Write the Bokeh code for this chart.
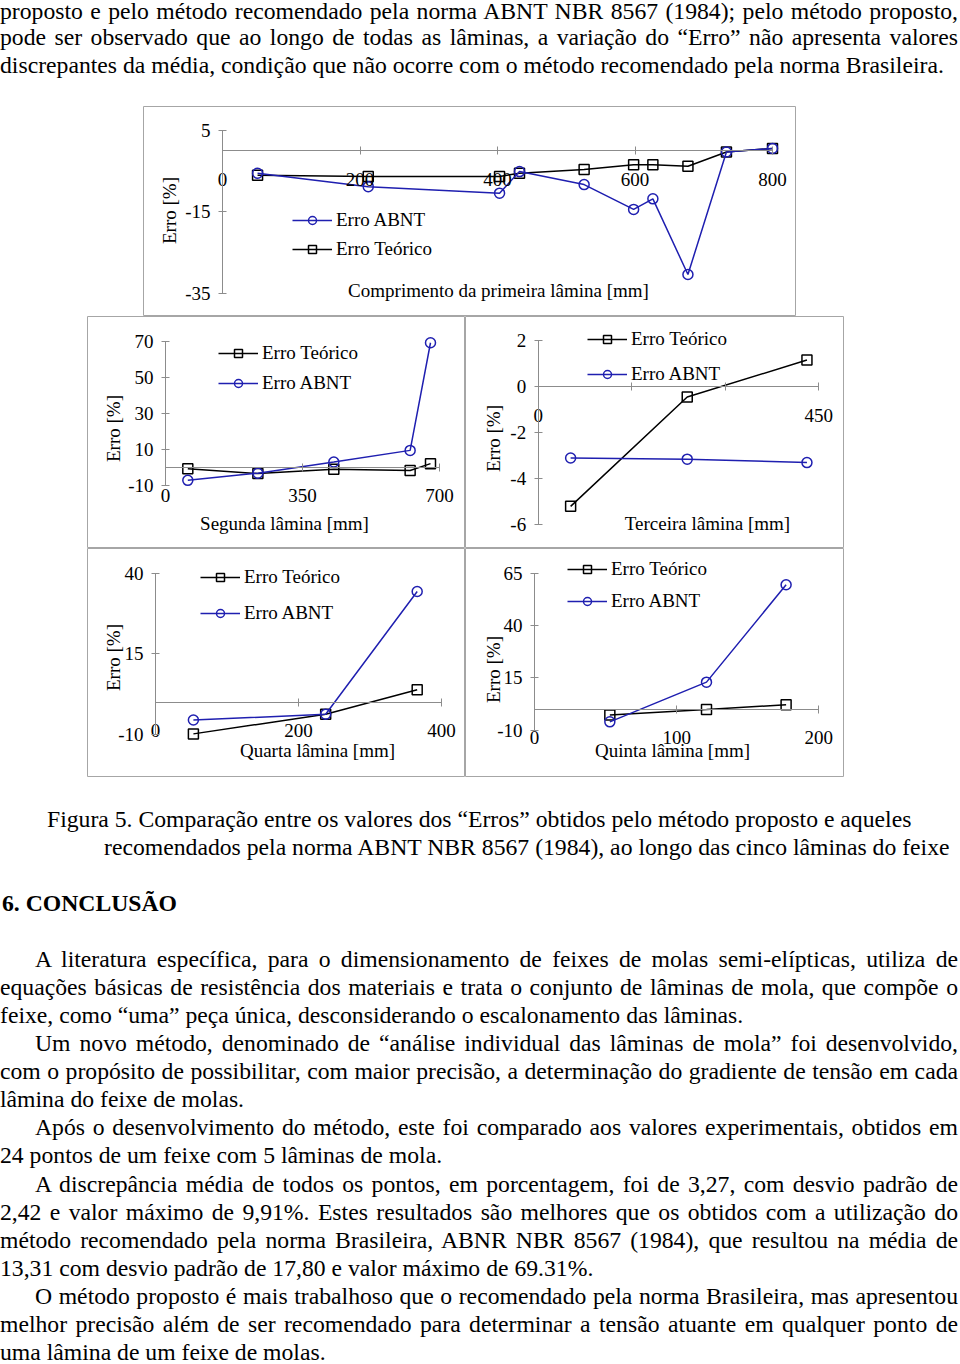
import math
from bokeh.plotting import figure
from bokeh.models import (LinearAxis, FixedTicker, Legend, LegendItem, Label,
                          Range1d, Div, Spacer)
from bokeh.layouts import column, row
from bokeh.embed import file_html
from bokeh.resources import INLINE

# ---------------- data ----------------
lam1_x = [51, 212, 403, 432, 526, 598, 626, 677, 733, 800]
lam1_teorico = [-6.0, -6.3, -6.3, -5.5, -4.6, -3.4, -3.4, -3.8, -0.3, 0.6]
lam1_abnt = [-5.5, -8.8, -10.4, -5.1, -8.3, -14.4, -11.8, -30.4, -0.3, 0.6]
lam1_xticks = [0, 200, 400, 600, 800]
lam1_yticks = [-35, -15, 5]

lam2_x = [57, 236, 430, 625, 677]
lam2_teorico = [-0.9, -3.6, -1.2, -1.9, 1.9]
lam2_abnt = [-7.4, -3.4, 2.8, 9.3, 69.3]
lam2_xticks = [0, 350, 700]
lam2_yticks = [-10, 10, 30, 50, 70]

lam3_x = [52, 239, 431]
lam3_teorico = [-5.2, -0.45, 1.15]
lam3_abnt = [-3.1, -3.15, -3.3]
lam3_xticks = [0, 150, 300, 450]
lam3_xtick_labels = {150: "", 300: ""}
lam3_yticks = [-6, -4, -2, 0, 2]

lam4_x = [53, 238, 366]
lam4_teorico = [-9.9, -3.8, 3.8]
lam4_abnt = [-5.6, -3.8, 34.4]
lam4_xticks = [0, 200, 400]
lam4_yticks = [-10, 15, 40]

lam5_x = [53, 121, 177]
lam5_teorico = [-2.7, -0.1, 2.2]
lam5_abnt = [-6.0, 13.0, 59.6]
lam5_xticks = [0, 100, 200]
lam5_yticks = [-10, 15, 40, 65]

y_title = "Erro [%]"
label_teorico = "Erro Teórico"
label_abnt = "Erro ABNT"
x_titles = ["Comprimento da primeira lâmina [mm]", "Segunda lâmina [mm]",
            "Terceira lâmina [mm]", "Quarta lâmina [mm]", "Quinta lâmina [mm]"]

# ---------------- styles ----------------
SERIF = "Liberation Serif"
AXIS_GRAY = "#8c8c8c"
BOX_GRAY = "#a6a6a6"
BLUE = "#1f1fb0"
FS = "19px"


def style_axis(ax, ticks):
    ax.axis_line_color = AXIS_GRAY
    ax.axis_line_width = 1
    ax.major_tick_line_color = AXIS_GRAY
    ax.major_tick_in = 4
    ax.major_tick_out = 4
    ax.minor_tick_line_color = None
    ax.major_label_text_font = SERIF
    ax.major_label_text_font_size = FS
    ax.major_label_text_color = "black"
    # plain hyphen-minus, as in the original
    ax.major_label_overrides = {t: str(t) for t in ticks}


def make_chart(w, h, xmap, ymap, x, teo, abnt, xticks, yticks, xtitle,
               xtitle_pos, ytitle_pos, legend_loc, legend_spacing,
               order_abnt_first=False, xoverrides=None):
    (px0, vx0), (px1, vx1) = xmap
    (py0, vy0), (py1, vy1) = ymap
    fx = lambda px: vx0 + (px - px0) * (vx1 - vx0) / (px1 - px0)
    fy = lambda py: vy0 + (py - py0) * (vy1 - vy0) / (py1 - py0)

    p = figure(width=w, height=h, x_range=Range1d(fx(0), fx(w)),
               y_range=Range1d(fy(h), fy(0)), x_axis_type=None,
               y_axis_type=None, toolbar_location=None, output_backend="svg",
               min_border=0, title=None, outline_line_color=BOX_GRAY,
               outline_line_width=1, background_fill_color="white",
               border_fill_color="white", margin=(0, 0, 0, 0))

    xa = LinearAxis(fixed_location=0, bounds=(xticks[0], xticks[-1]),
                    ticker=FixedTicker(ticks=xticks, minor_ticks=[]),
                    major_label_standoff=18)
    style_axis(xa, xticks)
    if xoverrides:
        ov = dict(xa.major_label_overrides)
        ov.update(xoverrides)
        xa.major_label_overrides = ov
    p.add_layout(xa, "below")

    ya = LinearAxis(fixed_location=0, bounds=(yticks[0], yticks[-1]),
                    ticker=FixedTicker(ticks=yticks, minor_ticks=[]),
                    major_label_standoff=8)
    style_axis(ya, yticks)
    p.add_layout(ya, "left")

    lt = p.line(x, teo, line_color="black", line_width=1.5)
    st = p.scatter(x, teo, marker="square", size=10, line_color="black",
                   fill_color=None, line_width=1.5)
    la = p.line(x, abnt, line_color=BLUE, line_width=1.5)
    sa = p.scatter(x, abnt, marker="circle", size=10, line_color=BLUE,
                   fill_color=None, line_width=1.5)

    it_t = LegendItem(label=label_teorico, renderers=[lt, st])
    it_a = LegendItem(label=label_abnt, renderers=[la, sa])
    items = [it_a, it_t] if order_abnt_first else [it_t, it_a]
    leg = Legend(items=items, location=legend_loc, orientation="vertical",
                 glyph_width=40, glyph_height=20, label_height=20,
                 spacing=legend_spacing, padding=0, margin=0,
                 label_standoff=4, border_line_alpha=0,
                 background_fill_alpha=0, label_text_font=SERIF,
                 label_text_font_size=FS, label_text_color="black")
    p.add_layout(leg)

    p.add_layout(Label(x=fx(xtitle_pos[0]), y=fy(xtitle_pos[1]), text=xtitle,
                       text_align="center", text_baseline="middle",
                       text_font=SERIF, text_font_size=FS,
                       text_color="black"))
    p.add_layout(Label(x=fx(ytitle_pos[0]), y=fy(ytitle_pos[1]), text=y_title,
                       angle=math.pi / 2, text_align="center",
                       text_baseline="middle", text_font=SERIF,
                       text_font_size=FS, text_color="black"))
    return p


p1 = make_chart(653, 210, ((79, 0), (629, 800)), ((24, 5), (186.7, -35)),
                lam1_x, lam1_teorico, lam1_abnt, lam1_xticks, lam1_yticks,
                x_titles[0], (355, 184), (26.3, 104), (149, 56), 7,
                order_abnt_first=True)
p2 = make_chart(378, 232, ((78, 0), (352, 700)), ((25, 70), (168.5, -10)),
                lam2_x, lam2_teorico, lam2_abnt, lam2_xticks, lam2_yticks,
                x_titles[1], (197, 207), (26, 112), (131, 154), 8)
p3 = make_chart(379, 232, ((72.7, 0), (353.3, 450)), ((24, 2), (208.3, -6)),
                lam3_x, lam3_teorico, lam3_abnt, lam3_xticks, lam3_yticks,
                x_titles[2], (242, 207), (28, 122), (122, 163), 13,
                xoverrides=lam3_xtick_labels)
p4 = make_chart(378, 229, ((68, 0), (354, 400)), ((25, 40), (185.7, -10)),
                lam4_x, lam4_teorico, lam4_abnt, lam4_xticks, lam4_yticks,
                x_titles[3], (230, 202), (26, 109), (113, 153), 14)
p5 = make_chart(379, 229, ((69, 0), (353.3, 200)), ((25, 65), (181.7, -10)),
                lam5_x, lam5_teorico, lam5_abnt, lam5_xticks, lam5_yticks,
                x_titles[4], (207, 202), (28, 121), (102, 165), 10)

# ---------------- page text ----------------
FSZ = 23.7


def text_line(text, center, left=0, justify=False, bold=False, right=958,
              lh=28):
    baseline = center + 7
    off = (lh - 1.107 * FSZ) / 2 + 0.891 * FSZ
    top = baseline - off
    st = (f"position:absolute;top:{top:.2f}px;left:{left}px;"
          f"width:{right-left}px;font-family:'Liberation Serif';"
          f"font-size:{FSZ}px;line-height:{lh}px;color:#000;")
    if justify:
        st += "text-align:justify;text-align-last:justify;"
    else:
        st += "text-align:left;"
    if bold:
        st += "font-weight:bold;"
    return f'<div style="{st}">{text}</div>'


top_lines = [
    ("proposto e pelo método recomendado pela norma ABNT NBR 8567 (1984); pelo método proposto,", True),
    ("pode ser observado que ao longo de todas as lâminas, a variação do “Erro” não apresenta valores", True),
    ("discrepantes da média, condição que não ocorre com o método recomendado pela norma Brasileira.", False),
]
top_centers = [12, 38, 66]
top_html = '<div style="position:relative;width:960px;height:106px;">'
for i, (t, j) in enumerate(top_lines):
    top_html += text_line(t, top_centers[i], justify=j, lh=(20 if i == 0 else 28))
top_html += "</div>"

B0 = 777
body = [
    ("A literatura específica, para o dimensionamento de feixes de molas semi-elípticas, utiliza de", 35, True),
    ("equações básicas de resistência dos materiais e trata o conjunto de lâminas de mola, que compõe o", 0, True),
    ("feixe, como “uma” peça única, desconsiderando o escalonamento das lâminas.", 0, False),
    ("Um novo método, denominado de “análise individual das lâminas de mola” foi desenvolvido,", 35, True),
    ("com o propósito de possibilitar, com maior precisão, a determinação do gradiente de tensão em cada", 0, True),
    ("lâmina do feixe de molas.", 0, False),
    ("Após o desenvolvimento do método, este foi comparado aos valores experimentais, obtidos em", 35, True),
    ("24 pontos de um feixe com 5 lâminas de mola.", 0, False),
    ("A discrepância média de todos os pontos, em porcentagem, foi de 3,27, com desvio padrão de", 35, True),
    ("2,42 e valor máximo de 9,91%. Estes resultados são melhores que os obtidos com a utilização do", 0, True),
    ("método recomendado pela norma Brasileira, ABNR NBR 8567 (1984), que resultou na média de", 0, True),
    ("13,31 com desvio padrão de 17,80 e valor máximo de 69.31%.", 0, False),
    ("O método proposto é mais trabalhoso que o recomendado pela norma Brasileira, mas apresentou", 35, True),
    ("melhor precisão além de ser recomendado para determinar a tensão atuante em qualquer ponto de", 0, True),
    ("uma lâmina de um feixe de molas.", 0, False),
]
bot_html = '<div style="position:relative;width:960px;height:587px;">'
bot_html += text_line("Figura 5. Comparação entre os valores dos “Erros” obtidos pelo método proposto e aqueles", 820 - B0, left=47, right=960)
bot_html += text_line("recomendados pela norma ABNT NBR 8567 (1984), ao longo das cinco lâminas do feixe", 848 - B0, left=104, right=960)
bot_html += text_line("6. CONCLUSÃO", 904 - B0, left=2, bold=True)
for i, (t, ind, j) in enumerate(body):
    bot_html += text_line(t, 960 - B0 + 28.07 * i, left=ind, justify=j)
bot_html += "</div>"

top_div = Div(text=top_html, width=960, height=106, margin=(0, 0, 0, 0))
bot_div = Div(text=bot_html, width=960, height=587, margin=(0, 0, 0, 0))

row1 = row(Spacer(width=143, height=210, margin=(0, 0, 0, 0)), p1,
           margin=(0, 0, 0, 0))
grid = column(row(p2, p3, margin=(0, 0, 0, 0)),
              row(p4, p5, margin=(0, 0, 0, 0)), margin=(0, 0, 0, 0))
row2 = row(Spacer(width=87, height=461, margin=(0, 0, 0, 0)), grid,
           margin=(0, 0, 0, 0))
page = column(top_div, row1, row2, bot_div, margin=(0, 0, 0, 0))

open("out.html", "w").write(file_html(page, INLINE))
